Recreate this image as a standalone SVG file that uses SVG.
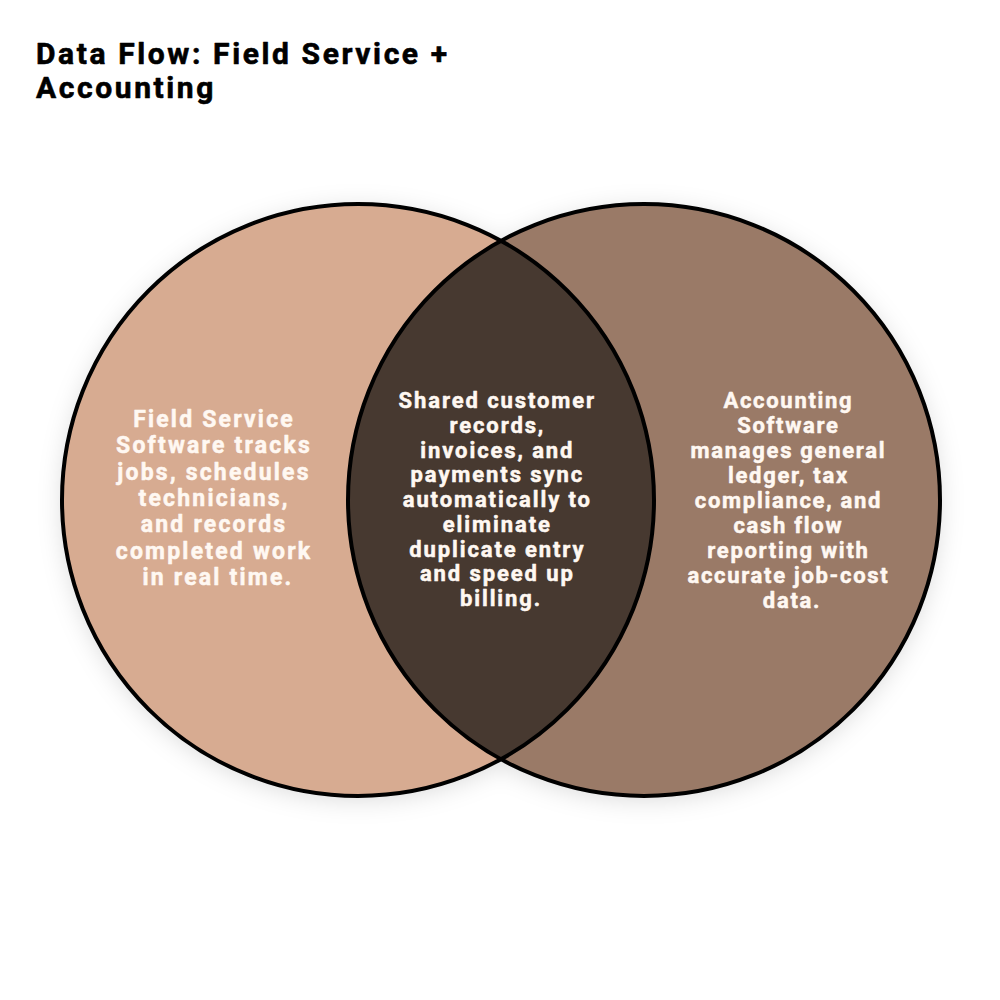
<svg xmlns="http://www.w3.org/2000/svg" width="1000" height="1000" viewBox="0 0 1000 1000">
<defs>
<filter id="shadow" x="-20%" y="-20%" width="140%" height="140%">
<feDropShadow dx="0" dy="4" stdDeviation="12" flood-color="#000" flood-opacity="0.14"/>
</filter>
<style>
.title{font-family:Roboto,"Liberation Sans",sans-serif;font-weight:700;font-size:30px;letter-spacing:2.6px;fill:#000;stroke:#000;stroke-width:0.6px;stroke-linejoin:round}
.lbl{font-family:Roboto,"Liberation Sans",sans-serif;font-weight:700;letter-spacing:1.7px;fill:#FFF8F2;stroke:#FFF8F2;stroke-width:0.5px;stroke-linejoin:round;text-anchor:middle}
.lbl-left{letter-spacing:2.2px}
.lbl-mid{letter-spacing:1.9px}
.ring{fill:none;stroke:#000;stroke-width:4}
</style>
</defs>
<rect width="1000" height="1000" fill="#fff"/>
<g id="title">
<text class="title" x="36" y="64">Data Flow: Field Service +</text>
<text class="title" x="36" y="98">Accounting</text>
</g>
<g id="shadows" filter="url(#shadow)">
<circle cx="358" cy="500" r="296" fill="#D7AB91"/>
<circle cx="644" cy="500" r="296" fill="#9A7A67"/>
</g>
<g id="field-service">
<circle cx="358" cy="500" r="296" fill="#D7AB91"/>
</g>
<g id="accounting">
<circle cx="644" cy="500" r="296" fill="#9A7A67"/>
</g>
<g id="shared">
<path d="M501 241 A296 296 0 0 1 501 759 A296 296 0 0 1 501 241 Z" fill="#473930"/>
</g>
<g id="outlines">
<circle class="ring" cx="358" cy="500" r="296"/>
<circle class="ring" cx="644" cy="500" r="296"/>
</g>
<g id="connectors"></g>
<g id="field-service-label">
<text class="lbl lbl-left" font-size="23" x="218">
<tspan x="218" y="427">Field Service</tspan>
<tspan x="218" y="453.3">Software tracks</tspan>
<tspan x="218" y="479.6">jobs, schedules</tspan>
<tspan x="218" y="506">technicians,</tspan>
<tspan x="218" y="532.2">and records</tspan>
<tspan x="218" y="558.5">completed work</tspan>
<tspan x="218" y="584.8">in real time.</tspan>
</text>
</g>
<g id="shared-label">
<text class="lbl lbl-mid" font-size="22" x="501">
<tspan x="501" y="408">Shared customer</tspan>
<tspan x="501" y="432.75">records,</tspan>
<tspan x="501" y="457.5">invoices, and</tspan>
<tspan x="501" y="482.25">payments sync</tspan>
<tspan x="501" y="507">automatically to</tspan>
<tspan x="501" y="531.75">eliminate</tspan>
<tspan x="501" y="556.5">duplicate entry</tspan>
<tspan x="501" y="581.25">and speed up</tspan>
<tspan x="501" y="606">billing.</tspan>
</text>
</g>
<g id="accounting-label">
<text class="lbl" font-size="22" x="792">
<tspan x="792" y="408">Accounting</tspan>
<tspan x="792" y="433">Software</tspan>
<tspan x="792" y="458">manages general</tspan>
<tspan x="792" y="483">ledger, tax</tspan>
<tspan x="792" y="508">compliance, and</tspan>
<tspan x="792" y="533">cash flow</tspan>
<tspan x="792" y="558">reporting with</tspan>
<tspan x="792" y="583">accurate job-cost</tspan>
<tspan x="792" y="608">data.</tspan>
</text>
</g>
</svg>
